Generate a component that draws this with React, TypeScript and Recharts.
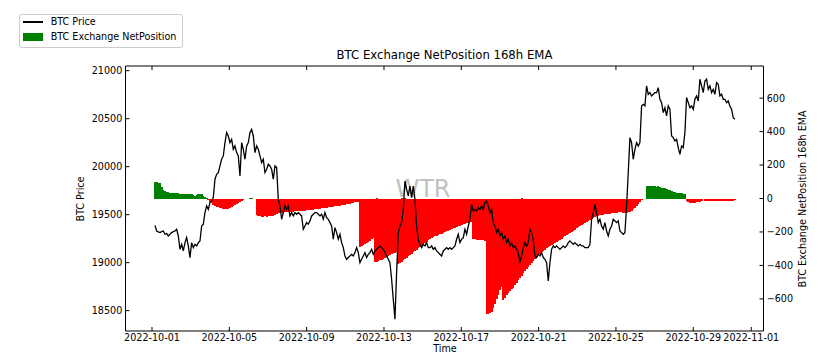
import React from "react";
import { Bar, Cell, ComposedChart, Line, XAxis, YAxis } from "recharts";

// hourly export resampled: one reading every ~2.07 h, 2022-10-01 03:42 -> 2022-10-31 03:42
const START_LABEL = "2022-10-01";
const FIRST_SAMPLE_HOUR = 3.7;
const SAMPLE_STEP_HOURS = 720 / 348;

const DATE_TICKS = [
  "2022-10-01",
  "2022-10-05",
  "2022-10-09",
  "2022-10-13",
  "2022-10-17",
  "2022-10-21",
  "2022-10-25",
  "2022-10-29",
  "2022-11-01",
];
const PRICE_TICKS = [18500, 19000, 19500, 20000, 20500, 21000];
const NET_TICKS = [-600, -400, -200, 0, 200, 400, 600];

const BTC_PRICE = [
  19389, 19330, 19320, 19313, 19323, 19330, 19296, 19303, 19278, 19296,
  19313, 19323, 19330, 19348, 19278, 19139, 19191, 19122, 19209, 19261,
  19174, 19053, 19209, 19157, 19191, 19174, 19209, 19226, 19382, 19400,
  19521, 19591, 19556, 19626, 19643, 19678, 19869, 19921, 19938, 20008,
  20077, 20112, 20251, 20355, 20320, 20251, 20285, 20181, 20216, 20147,
  20112,
  19903, 20251, 20181, 20077, 20216, 20251, 20355, 20390, 20320, 20147,
  20216, 20181, 20112, 20042, 20077, 19938, 19973, 20025, 20008, 19973,
  19869, 20008, 19990, 19660, 19591, 19452, 19521, 19591, 19556, 19591,
  19487, 19521, 19487, 19521, 19504, 19521, 19504, 19487, 19348, 19382,
  19417, 19400, 19435, 19487, 19504, 19521, 19521, 19504, 19487, 19504,
  19452, 19521, 19469, 19452, 19417, 19382, 19244,
  19365, 19313, 19244, 19296, 19209, 19157, 19070, 19035, 19053, 19070,
  19087, 19070, 19105, 19157, 19105, 19000, 19035, 19070, 19105, 19053,
  19087, 19105, 19139, 19087, 19122, 19139, 19157, 19174, 19157, 19139,
  19105, 19070, 19035, 19000, 18827, 18618, 18410, 18896, 19313, 19382,
  19417, 19556, 19851, 19764, 19695, 19799, 19678, 19799, 19660, 19382,
  19244, 19191, 19157, 19191, 19174, 19209, 19157,
  19157, 19174, 19139, 19157, 19122, 19105, 19087, 19070, 19122, 19139,
  19157, 19139, 19157, 19139, 19157, 19174, 19244, 19296, 19209, 19244,
  19261, 19348, 19296, 19382, 19452, 19608, 19539, 19556, 19539, 19573,
  19556, 19591, 19556, 19626, 19643, 19591, 19521, 19556, 19417, 19382,
  19313, 19348, 19278, 19313, 19244, 19278, 19209, 19244, 19174, 19209,
  19157, 19174, 19139, 19105, 19000, 19070, 19157,
  19209, 19174, 19209, 19348, 19313, 19244, 19070, 19053, 19087, 19070,
  19105, 19053, 19035, 19000, 18809, 19000, 19139, 19174, 19157, 19174,
  19157, 19139, 19157, 19174, 19157, 19174, 19209, 19226, 19209, 19191,
  19209, 19191, 19174, 19191, 19174, 19174, 19157, 19157, 19157, 19191,
  19452, 19521, 19608, 19521, 19417, 19452, 19382, 19348, 19417, 19330,
  19278, 19348, 19382, 19452, 19435, 19417, 19435,
  19330, 19313, 19296, 19313, 19591, 19938, 20303, 20251, 20077, 20181,
  20251, 20216, 20251, 20633, 20650, 20633, 20841, 20754, 20772, 20737,
  20754, 20772, 20772, 20824, 20702, 20667, 20563, 20615, 20529, 20633,
  20598, 20320, 20303, 20268, 20285, 20199, 20129, 20216, 20199, 20355,
  20720, 20667, 20615, 20633, 20598, 20702, 20737, 20685, 20911, 20841,
  20772, 20893, 20911, 20806, 20841, 20772, 20806, 20754, 20876, 20859,
  20737, 20754, 20702, 20702, 20667, 20685, 20633, 20598, 20511, 20494,
];

const NET_POSITION = [
  96, 97, 95, 94, 70, 50, 42, 40, 38, 33,
  32, 31, 32, 30, 31, 28, 27, 28, 27, 28,
  29, 27, 26, 20, 12, 18, 24, 27, 25, 14,
  10, 4, -8, -18, -28, -38, -44, -48, -52, -56,
  -58, -60, -62, -62, -60, -55, -50, -44, -38, -30,
  -24, -18, -12, -8, -5, -3, -2, 2, 3, -2,
  -5, -98, -104, -106, -108, -109, -107, -108, -106, -104,
  -105, -102, -98, -92, -88, -86, -84, -82, -80, -80,
  -79, -79, -78, -78, -77, -76, -75, -74, -74, -73,
  -72, -71, -70, -68, -67, -66, -64, -63, -62, -60,
  -59, -57, -56, -55, -53, -52, -50, -49,
  -47, -46, -44, -42, -41, -39, -37, -35, -33, -31, -28, -25, -22,
  -20, -19,
  -288, -283, -278, -272, -266, -260, -252, -244, -236,
  -382, -378, -374, -370, -366, -360, -354, -348, -342, -336,
  -332, -328, -325, -322,
  -394,
  -386, -378, -370, -362, -354, -346, -338, -330, -322, -314,
  -306, -298, -290, -282, -274, -266, -258, -250,
  -240, -236, -231, -227, -223, -218, -214, -210, -205, -201,
  -197, -192, -188, -184, -179, -175, -171, -166, -162, -158,
  -155, -152, -148, -145, -142, -140,
  -244, -245, -246, -247, -248, -249, -250, -252,
  -690, -688, -684, -676, -655, -630, -600, -575, -548,
  -530,
  -607, -592, -578, -566, -555, -543, -532, -520, -508, -490, -475, -462, -448,
  -432, -420, -408, -396, -384, -372, -360,
  -350, -340, -330, -322, -314, -306, -298, -292, -286, -280,
  -274, -267, -260, -253, -246, -240, -233, -226, -219, -213,
  -206, -199, -192, -186, -179, -172, -165, -159, -152, -145,
  -138, -132,
  -126, -120, -115, -110, -106, -103, -100, -98, -96, -94,
  -92, -91, -90, -88, -87, -86, -84, -82,
  -80, -82, -84, -86, -85, -82, -78, -72, -64, -55, -45, -35, -22, -10,
  0, 0,
  72, 74, 73, 75, 72, 73, 71, 72, 68, 65,
  63, 62, 56, 52, 50, 46, 40, 36, 34, 33,
  31, 30, 29, 28,
  -16, -20, -24, -27, -26, -24, -22, -20, -18, -12, 0,
  -14, -15, -13, -14, -16, -15, -14, -13, -14, -15,
  -14, -13, -12, -14, -13, -12, -13, -12, -11,
];

const GREEN = "#008000";
const RED = "#ff0000";
const FONT = "'DejaVu Sans', sans-serif";
const TICK_STYLE = { fill: "#000", fontSize: 9.6, fontFamily: FONT };
const AXIS_LINE = { stroke: "#000", strokeWidth: 1 };

const hoursFrom = (label: string) =>
  (Date.parse(label) - Date.parse(START_LABEL)) / 3600000;

const TICK_HOURS = DATE_TICKS.map(hoursFrom);
const labelForHour = (h: number) => {
  const idx = TICK_HOURS.findIndex((t) => Math.abs(t - h) < 0.01);
  return idx >= 0 ? DATE_TICKS[idx] : "";
};

const n = Math.min(BTC_PRICE.length, NET_POSITION.length);
const data = Array.from({ length: n }, (_, i) => ({
  t: FIRST_SAMPLE_HOUR + i * SAMPLE_STEP_HOURS,
  price: BTC_PRICE[i],
  net: NET_POSITION[i],
}));

const X_DOMAIN: [number, number] = [-32.9, 759.2];

const text = (
  style: React.CSSProperties,
  content: string,
): React.ReactElement => (
  <div
    style={{
      position: "absolute",
      whiteSpace: "nowrap",
      lineHeight: 1,
      fontFamily: FONT,
      color: "#000",
      ...style,
    }}
  >
    {content}
  </div>
);

export default function App() {
  return (
    <div
      style={{
        position: "absolute",
        left: 0,
        top: 0,
        width: 835,
        height: 355,
        overflow: "hidden",
        background: "#fff",
        fontFamily: FONT,
      }}
    >
      {/* watermark sits under the plot */}
      {text(
        {
          left: 423,
          top: 176.5,
          fontSize: 24,
          color: "#c2c2c2",
          transform: "translateX(-50%)",
        },
        "WTR",
      )}

      <div style={{ position: "absolute", left: 0, top: 0 }}>
        <ComposedChart
          width={835}
          height={355}
          data={data}
          margin={{ top: 65, right: 11.5, bottom: 4, left: 65.5 }}
          barCategoryGap={0}
          barGap={0}
        >
          <XAxis
            xAxisId="bottom"
            dataKey="t"
            type="number"
            domain={X_DOMAIN}
            allowDataOverflow
            ticks={TICK_HOURS}
            interval={0}
            tickFormatter={labelForHour}
            height={20}
            tickSize={-4}
            tickMargin={7.2}
            tick={TICK_STYLE}
            tickLine={AXIS_LINE}
            axisLine={AXIS_LINE}
          />
          <XAxis
            xAxisId="top"
            orientation="top"
            dataKey="t"
            type="number"
            domain={X_DOMAIN}
            allowDataOverflow
            ticks={TICK_HOURS}
            interval={0}
            tickFormatter={() => ""}
            height={1}
            tickSize={-4}
            tick={TICK_STYLE}
            tickLine={AXIS_LINE}
            axisLine={AXIS_LINE}
          />
          <YAxis
            yAxisId="price"
            orientation="left"
            type="number"
            domain={[18288, 21049]}
            allowDataOverflow
            ticks={PRICE_TICKS}
            interval={0}
            width={60}
            tickSize={-4}
            tickMargin={7.2}
            tick={TICK_STYLE}
            tickLine={AXIS_LINE}
            axisLine={AXIS_LINE}
          />
          <YAxis
            yAxisId="net"
            orientation="right"
            type="number"
            domain={[-792, 792]}
            allowDataOverflow
            ticks={NET_TICKS}
            interval={0}
            width={60}
            tickSize={-4}
            tickMargin={7.2}
            tickFormatter={(v: number) => (v < 0 ? `\u2212${-v}` : `${v}`)}
            tick={TICK_STYLE}
            tickLine={AXIS_LINE}
            axisLine={AXIS_LINE}
          />
          <Bar
            dataKey="net"
            xAxisId="bottom"
            yAxisId="net"
            isAnimationActive={false}
            shapeRendering="crispEdges"
          >
            {data.map((row, i) => (
              <Cell key={i} fill={row.net >= 0 ? GREEN : RED} />
            ))}
          </Bar>
          <Line
            dataKey="price"
            xAxisId="bottom"
            yAxisId="price"
            type="linear"
            stroke="#000"
            strokeWidth={1.3}
            dot={false}
            activeDot={false}
            isAnimationActive={false}
          />
        </ComposedChart>
      </div>

      {text(
        { left: 444.5, top: 50.1, fontSize: 11.7, transform: "translateX(-50%)" },
        "BTC Exchange NetPosition 168h EMA",
      )}
      {text(
        { left: 445, top: 344.4, fontSize: 9.6, transform: "translateX(-50%)" },
        "Time",
      )}
      {text(
        {
          left: 81,
          top: 199,
          fontSize: 9.6,
          transform: "translate(-50%, -50%) rotate(-90deg)",
        },
        "BTC Price",
      )}
      {text(
        {
          left: 803,
          top: 199,
          fontSize: 9.6,
          transform: "translate(-50%, -50%) rotate(-90deg)",
        },
        "BTC Exchange NetPosition 168h EMA",
      )}

      {/* legend */}
      <div
        style={{
          position: "absolute",
          left: 19,
          top: 14,
          width: 164,
          height: 34,
          boxSizing: "border-box",
          border: "1px solid #cccccc",
          borderRadius: 3,
          background: "rgba(255,255,255,0.8)",
        }}
      />
      <div
        style={{
          position: "absolute",
          left: 22.7,
          top: 21.3,
          width: 20.6,
          height: 1.3,
          background: "#000",
        }}
      />
      <div
        style={{
          position: "absolute",
          left: 22.7,
          top: 33.3,
          width: 20.6,
          height: 7.4,
          background: GREEN,
        }}
      />
      {text({ left: 50.7, top: 17.1, fontSize: 9.6 }, "BTC Price")}
      {text({ left: 50.7, top: 31.9, fontSize: 9.6 }, "BTC Exchange NetPosition")}
    </div>
  );
}
